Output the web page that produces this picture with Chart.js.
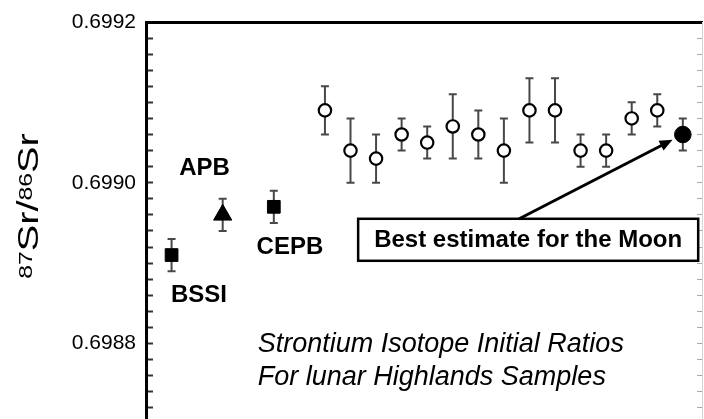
<!DOCTYPE html>
<html>
<head>
<meta charset="utf-8">
<script src="https://cdn.jsdelivr.net/npm/chart.js@4.4.1/dist/chart.umd.min.js"></script>
<style>
  html, body { margin: 0; padding: 0; background: #fff; overflow: hidden; }
  #wrap { position: relative; width: 704px; height: 419px; }
</style>
</head>
<body>
<div id="wrap"><canvas id="srChart"></canvas></div>
<script>
// reference reservoirs (left group)
const refNames = ['BSSI', 'APB', 'CEPB'];
const refX = [1, 3, 5];
const refRatio = [0.69891, 0.69896, 0.69897];
const refErr = [0.00002, 0.00002, 0.00002];

// lunar highlands samples (open circles)
const lunarX = [7, 8, 9, 10, 11, 12, 13, 14, 15, 16, 17, 18, 19, 20];
const lunarRatio = [0.69909, 0.69904, 0.69903, 0.69906, 0.69905, 0.69907, 0.69906,
                    0.69904, 0.69909, 0.69909, 0.69904, 0.69904, 0.69908, 0.69909];
const lunarErr = [0.00003, 0.00004, 0.00003, 0.00002, 0.00002, 0.00004, 0.00003,
                  0.00004, 0.00004, 0.00004, 0.00002, 0.00002, 0.00002, 0.00002];

// best estimate for the Moon (filled circle)
const moonX = [21];
const moonRatio = [0.69906];
const moonErr = [0.00002];

// y axis
const majorTicks = [0.6988, 0.6990, 0.6992];
const minorStep = 0.00002;
const yMin = 0.698706;
const yMax = 0.6992;

const FONT = "'Liberation Sans', Arial, Helvetica, sans-serif";
Chart.defaults.font.family = FONT;
Chart.defaults.color = '#000';

function toPoints(xs, ys) {
    return xs.map((x, i) => ({ x: x, y: ys[i] }));
}

function isMajor(v) {
    return majorTicks.some(m => Math.abs(m - v) < 1e-9);
}

function buildTicks(scale) {
    const ticks = [];
    const k0 = Math.ceil(scale.min / minorStep - 1e-6);
    const k1 = Math.floor(scale.max / minorStep + 1e-6);
    for (let k = k0; k <= k1; k++) {
        ticks.push({ value: Number((k * minorStep).toFixed(5)) });
    }
    scale.ticks = ticks;
}

// vertical error bars, drawn under the markers
const errorBars = {
    id: 'errorBars',
    beforeDatasetsDraw(chart) {
        const ctx = chart.ctx;
        const xs = chart.scales.x, ys = chart.scales.y;
        ctx.save();
        ctx.strokeStyle = '#484848';
        ctx.lineWidth = 2;
        chart.data.datasets.forEach(ds => {
            ds.data.forEach((p, i) => {
                const e = ds.errors[i];
                const px = xs.getPixelForValue(p.x);
                const top = ys.getPixelForValue(p.y + e);
                const bot = ys.getPixelForValue(p.y - e);
                ctx.beginPath();
                ctx.moveTo(px, top); ctx.lineTo(px, bot);
                ctx.moveTo(px - 4, top); ctx.lineTo(px + 4, top);
                ctx.moveTo(px - 4, bot); ctx.lineTo(px + 4, bot);
                ctx.stroke();
            });
        });
        ctx.restore();
    }
};

// text labels, caption, boxed note and arrow
const notes = {
    labels: [
        { text: 'APB', x: 2.29, y: 0.699018 },
        { text: 'CEPB', x: 5.63, y: 0.698919 },
        { text: 'BSSI', x: 2.07, y: 0.69886 }
    ],
    caption: { lines: ['Strontium Isotope Initial Ratios', 'For lunar Highlands Samples'],
               x: 4.37, y: [0.698789, 0.698748] },
    box: { text: 'Best estimate for the Moon', x: 14.95, y: 0.698929, arrowFromX: 14.6 }
};

const annotations = {
    id: 'annotations',
    afterDatasetsDraw(chart) {
        const ctx = chart.ctx;
        const xs = chart.scales.x, ys = chart.scales.y;
        ctx.save();
        ctx.fillStyle = '#000';

        ctx.font = 'bold 24px ' + FONT;
        ctx.textAlign = 'center';
        ctx.textBaseline = 'middle';
        notes.labels.forEach(l => {
            ctx.fillText(l.text, xs.getPixelForValue(l.x), ys.getPixelForValue(l.y));
        });

        ctx.font = 'italic 27px ' + FONT;
        ctx.textAlign = 'left';
        ctx.textBaseline = 'alphabetic';
        notes.caption.lines.forEach((t, i) => {
            ctx.fillText(t, xs.getPixelForValue(notes.caption.x), ys.getPixelForValue(notes.caption.y[i]));
        });

        // boxed note
        const b = notes.box;
        ctx.font = 'bold 24px ' + FONT;
        const tw = ctx.measureText(b.text).width;
        const cx = xs.getPixelForValue(b.x), cy = ys.getPixelForValue(b.y);
        const bw = tw + 32, bh = 42;
        ctx.fillStyle = '#fff';
        ctx.fillRect(cx - bw / 2, cy - bh / 2, bw, bh);
        ctx.strokeStyle = '#000';
        ctx.lineWidth = 2.5;
        ctx.strokeRect(cx - bw / 2, cy - bh / 2, bw, bh);
        ctx.fillStyle = '#000';
        ctx.textAlign = 'center';
        ctx.textBaseline = 'middle';
        ctx.fillText(b.text, cx, cy + 1);

        // arrow from box to the Moon estimate
        const sx = xs.getPixelForValue(b.arrowFromX), sy = cy - bh / 2;
        const mx = xs.getPixelForValue(moonX[0]), my = ys.getPixelForValue(moonRatio[0]);
        const dx = mx - sx, dy = my - sy, len = Math.hypot(dx, dy);
        const ux = dx / len, uy = dy / len;
        const tx = mx - ux * 11.5, ty = my - uy * 11.5;
        const hl = 13, hw = 5.5;
        ctx.lineWidth = 3;
        ctx.beginPath();
        ctx.moveTo(sx, sy);
        ctx.lineTo(tx - ux * hl * 0.8, ty - uy * hl * 0.8);
        ctx.stroke();
        ctx.beginPath();
        ctx.moveTo(tx, ty);
        ctx.lineTo(tx - ux * hl - uy * hw, ty - uy * hl + ux * hw);
        ctx.lineTo(tx - ux * hl + uy * hw, ty - uy * hl - ux * hw);
        ctx.closePath();
        ctx.fill();
        ctx.restore();
    }
};

// rotated y title with superscripts: 87Sr/86Sr
const yTitle = {
    id: 'yTitle',
    afterDraw(chart) {
        const ctx = chart.ctx;
        const area = chart.chartArea;
        const parts = [['87', 18, 6], ['Sr/', 29, 0], ['86', 18, 6], ['Sr', 29, 0]];
        ctx.save();
        ctx.translate(area.left - 108, area.top + 184);
        ctx.rotate(-Math.PI / 2);
        ctx.scale(1.37, 1);
        ctx.fillStyle = '#000';
        ctx.textBaseline = 'alphabetic';
        ctx.textAlign = 'left';
        let total = 0;
        parts.forEach(p => { ctx.font = p[1] + 'px ' + FONT; total += ctx.measureText(p[0]).width; });
        let x = -total / 2;
        parts.forEach(p => {
            ctx.font = p[1] + 'px ' + FONT;
            ctx.fillText(p[0], x, -p[2]);
            x += ctx.measureText(p[0]).width;
        });
        ctx.restore();
    }
};

function createRatioChart() {
    const ctx = document.getElementById('srChart').getContext('2d');
    new Chart(ctx, {
        type: 'scatter',
        data: {
            datasets: [{
                label: 'Reference',
                data: toPoints(refX, refRatio),
                errors: refErr,
                pointStyle: ['rect', 'triangle', 'rect'],
                pointRadius: [9, 10.5, 9],
                backgroundColor: '#000',
                borderColor: '#000',
                borderWidth: 1
            }, {
                label: 'Lunar highlands',
                data: toPoints(lunarX, lunarRatio),
                errors: lunarErr,
                pointStyle: 'circle',
                pointRadius: 6.2,
                backgroundColor: '#fff',
                borderColor: '#000',
                borderWidth: 2.2
            }, {
                label: 'Moon',
                data: toPoints(moonX, moonRatio),
                errors: moonErr,
                pointStyle: 'circle',
                pointRadius: 8.3,
                backgroundColor: '#000',
                borderColor: '#000',
                borderWidth: 1
            }]
        },
        options: {
            responsive: true,
            maintainAspectRatio: false,
            animation: false,
            events: [],
            layout: { autoPadding: false, padding: { top: 22, right: 0, bottom: 0, left: 0 } },
            plugins: { legend: { display: false }, tooltip: { enabled: false } },
            scales: {
                x: {
                    type: 'linear',
                    position: 'top',
                    min: 0,
                    max: 21.75,
                    ticks: { display: false },
                    grid: { display: false },
                    border: { display: true, width: 3, color: '#000' },
                    afterFit: s => { s.height = 0; }
                },
                y: {
                    position: 'left',
                    min: yMin,
                    max: yMax,
                    afterBuildTicks: buildTicks,
                    afterFit: s => { s.width = 146; s.paddingTop = 0; s.paddingBottom = 0; },
                    ticks: {
                        autoSkip: false,
                        padding: 17,
                        font: { size: 21 },
                        color: '#000',
                        callback: v => isMajor(v) ? v.toFixed(4) : []
                    },
                    grid: {
                        display: true,
                        drawOnChartArea: false,
                        drawTicks: true,
                        tickLength: -7,
                        tickWidth: 2,
                        tickColor: '#333'
                    },
                    border: { display: true, width: 3, color: '#000' }
                },
                y2: {
                    position: 'right',
                    min: yMin,
                    max: yMax,
                    afterBuildTicks: buildTicks,
                    afterFit: s => { s.width = 2; s.paddingTop = 0; s.paddingBottom = 0; },
                    ticks: { display: false, autoSkip: false },
                    grid: {
                        display: true,
                        drawOnChartArea: false,
                        drawTicks: true,
                        tickLength: -5,
                        tickWidth: 1,
                        tickColor: '#aaa'
                    },
                    border: { display: true, width: 1, color: '#d4d4d4' }
                }
            }
        },
        plugins: [errorBars, annotations, yTitle]
    });
}

document.addEventListener('DOMContentLoaded', createRatioChart);
</script>
</body>
</html>
